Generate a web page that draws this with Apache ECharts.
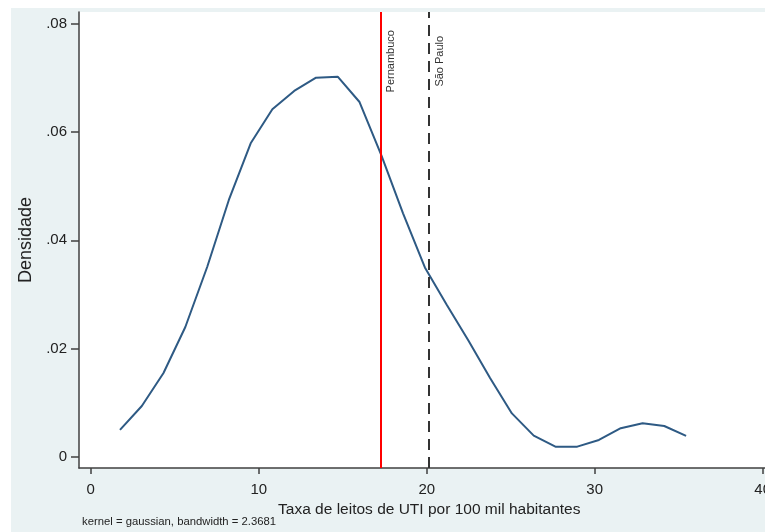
<!DOCTYPE html>
<html><head><meta charset="utf-8">
<script src="https://cdn.jsdelivr.net/npm/echarts@6/dist/echarts.min.js"></script>
<style>
html,body{margin:0;padding:0;background:#fff}
#wrap{position:relative;width:765px;height:532px;overflow:hidden;background:#fff}
#bg{position:absolute;left:11px;top:8px;width:760px;height:530px;background:#eaf2f3}
#c{position:absolute;left:0;top:0;width:800px;height:532px}
</style>
</head><body><div id="wrap"><div id="bg"></div><div id="c"></div></div>
<script>
const xGrid = [1.74, 3.04, 4.33, 5.63, 6.93, 8.22, 9.52, 10.81, 12.11, 13.41, 14.70, 16.00, 17.29, 18.59, 19.89, 21.18, 22.48, 23.77, 25.07, 26.37, 27.66, 28.96, 30.25, 31.55, 32.85, 34.14, 35.44];
const density = [0.00494, 0.00937, 0.01547, 0.02397, 0.03506, 0.04745, 0.05793, 0.06421, 0.06760, 0.07006, 0.07024, 0.06556, 0.05577, 0.04499, 0.03497, 0.02813, 0.02146, 0.01455, 0.00799, 0.00388, 0.00185, 0.00185, 0.00309, 0.00525, 0.00617, 0.00567, 0.00383];
const xTicks = [0, 10, 20, 30, 40];
const yTicks = [0, 0.02, 0.04, 0.06, 0.08];
const refNames = ['Pernambuco', 'São Paulo'];
const refValues = [17.24, 20.15];
const labelCenterY = 0.0731;
const xTitle = 'Taxa de leitos de UTI por 100 mil habitantes';
const yTitle = 'Densidade';
const noteText = 'kernel = gaussian, bandwidth = 2.3681';

const FONT = '"Liberation Sans", Arial, sans-serif';
const chart = echarts.init(document.getElementById('c'), null, {renderer: 'canvas'});
const axisCol = '#404040';
chart.setOption({
  backgroundColor: 'transparent',
  animation: false,
  grid: {left: 79, top: 12, width: 700.5, bottom: 64, show: true, backgroundColor: '#ffffff', borderWidth: 0},
  xAxis: {
    type: 'value', min: -0.7, max: 41,
    name: xTitle, nameLocation: 'middle', nameGap: 22,
    nameTextStyle: {fontFamily: FONT, fontSize: 15.5, color: '#222'},
    axisLine: {show: true, onZero: false, lineStyle: {color: axisCol, width: 1.5}},
    axisTick: {show: true, length: 6, customValues: xTicks, lineStyle: {color: axisCol, width: 1.5}},
    axisLabel: {customValues: xTicks, margin: 14, fontFamily: FONT, fontSize: 15, color: '#222', showMaxLabel: true},
    splitLine: {show: false}
  },
  yAxis: {
    type: 'value', min: -0.0021, max: 0.0822,
    name: yTitle, nameLocation: 'middle', nameGap: 44,
    nameTextStyle: {fontFamily: FONT, fontSize: 18, color: '#222'},
    axisLine: {show: true, onZero: false, lineStyle: {color: axisCol, width: 1.5}},
    axisTick: {show: true, length: 8, customValues: yTicks, lineStyle: {color: axisCol, width: 1.5}},
    axisLabel: {customValues: yTicks, margin: 12, fontFamily: FONT, fontSize: 15, color: '#222',
      formatter: v => (Math.abs(v) < 1e-9 ? '0' : v.toFixed(2).replace(/^0/, ''))},
    splitLine: {show: false}
  },
  series: [{
    type: 'line',
    data: xGrid.map((x, i) => [x, density[i]]),
    showSymbol: false, symbol: 'none',
    lineStyle: {color: '#2e5a84', width: 2},
    z: 3,
    markLine: {
      silent: true, symbol: 'none', label: {show: false},
      data: [
        {xAxis: refValues[0], lineStyle: {color: '#ff0000', width: 2, type: 'solid'}},
        {xAxis: refValues[1], lineStyle: {color: '#333333', width: 2, type: [11, 7]}}
      ]
    }
  }]
});

const pts = refValues.map(v => chart.convertToPixel({gridIndex: 0}, [v, labelCenterY]));
chart.setOption({
  graphic: refNames.map((n, i) => ({
    type: 'text', x: pts[i][0] + 11, y: pts[i][1], rotation: Math.PI / 2,
    style: {text: n, fill: '#333', font: '11px "Liberation Sans", Arial, sans-serif', align: 'center', verticalAlign: 'middle'}
  })).concat([{
    type: 'text', left: 82, top: 516,
    style: {text: noteText, fill: '#222', font: '11.3px "Liberation Sans", Arial, sans-serif'}
  }])
});
</script></body></html>
